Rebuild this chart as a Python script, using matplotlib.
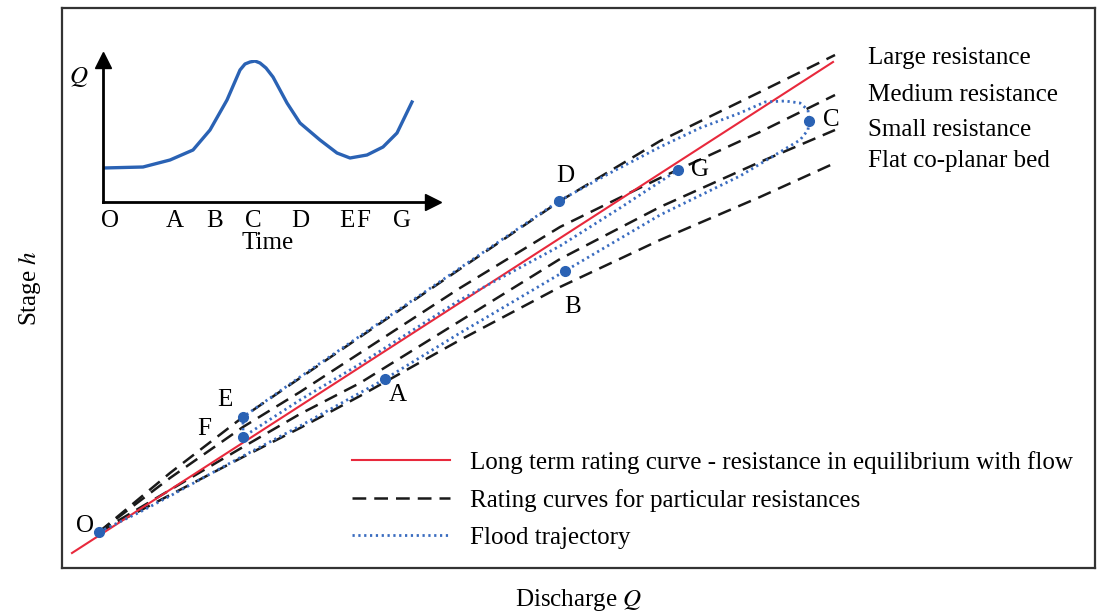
import matplotlib.pyplot as plt

plt.rcParams['font.family'] = ['Liberation Serif', 'DejaVu Serif']
plt.rcParams['mathtext.fontset'] = 'stix'

# --- schematic values (discharge Q, stage h) ---
q_grid = [99, 170, 243, 300, 360, 460, 560, 660, 760, 835]
h_large = [83, 142, 198, 237, 278, 346, 414, 474, 523, 560]
h_medium = [83, 137, 188, 223, 262, 327, 388, 437, 483, 520]
h_small = [83, 125, 168, 201, 232, 294, 356, 408, 453, 485]
h_flat = [83, 120, 158, 187, 219, 275, 328, 375, 418, 452]
resistance_names = ['Large resistance', 'Medium resistance',
                    'Small resistance', 'Flat co-planar bed']
resistance_label_h = [557, 520, 485, 454]

q_long = [72, 833]
h_long = [62, 553]

q_flood = [99, 140, 170, 243, 300, 385, 460, 565, 660, 740, 780, 800, 808, 809,
           808, 800, 785, 765, 740, 700, 660, 610, 559, 460, 360, 300, 243,
           243, 300, 360, 460, 560, 620, 678]
h_flood = [83, 103, 119, 159, 189, 236, 282, 344, 400, 439, 463, 475, 485, 494,
           505, 512, 514, 513, 502, 487, 468, 442, 414, 347, 279, 238, 198,
           178, 215, 251, 315, 369, 407, 445]

point_names = ['O', 'A', 'B', 'C', 'D', 'E', 'F', 'G']
point_q = [99, 385, 565, 809, 559, 243, 243, 678]
point_h = [83, 236, 344, 494, 414, 198, 178, 445]

# hydrograph in the inset (time, discharge)
t_hydro = [0, 40, 67, 90, 107, 124, 137, 142, 147, 152, 157, 163, 170, 184,
           197, 217, 234, 247, 264, 280, 294, 309]
q_hydro = [34, 35, 42, 52, 72, 102, 132, 138, 140, 141, 139, 134, 125, 99,
           79, 62, 49, 44, 47, 55, 69, 100]
t_ticks = [7, 72, 112, 150, 197, 244, 260, 299]

fs = 18
blue = '#2a62b4'
dot_blue = '#3a6cc0'
red = '#e8293c'

fig = plt.figure(figsize=(10.98, 6.15), dpi=100)
ax = fig.add_axes([62 / 1098, 47 / 615, 1033 / 1098, 560 / 615])

for h in [h_large, h_medium, h_small, h_flat]:
    ax.plot(q_grid, h, color='#1a1a1a', lw=1.8, dashes=(5.5, 3.2))
ax.plot(q_long, h_long, color=red, lw=1.5)
ax.plot(q_flood, h_flood, color=dot_blue, lw=2.0, dashes=(0.8, 1.3))
ax.plot(point_q, point_h, 'o', color=blue, ms=7, zorder=5)

# point letters
offsets = {'O': (-14, 6), 'A': (13, -16), 'B': (8, -36), 'C': (22, 1),
           'D': (6, 25), 'E': (-18, 17), 'F': (-39, 8), 'G': (22, 0)}
for name, q, h in zip(point_names, point_q, point_h):
    dx, dy = offsets[name]
    ax.text(q + dx, h + dy, name, fontsize=fs, ha='center', va='center')

# curve names on the right
for name, h in zip(resistance_names, resistance_label_h):
    ax.text(868, h, name, fontsize=fs, va='center', ha='left')

ax.set_xlim(62, 1095)
ax.set_ylim(47, 607)
ax.set_xticks([])
ax.set_yticks([])
for sp in ax.spines.values():
    sp.set_linewidth(1.6)
    sp.set_color('#333333')
ax.set_xlabel('Discharge $Q$', fontsize=18, labelpad=14)
ax.set_ylabel('Stage $h$', fontsize=18, labelpad=14)

leg_handles = [
    plt.Line2D([], [], color=red, lw=1.5),
    plt.Line2D([], [], color='#1a1a1a', lw=1.8, dashes=(5.5, 3.2)),
    plt.Line2D([], [], color=dot_blue, lw=2.0, dashes=(0.8, 1.3)),
]
leg_labels = ['Long term rating curve - resistance in equilibrium with flow',
              'Rating curves for particular resistances',
              'Flood trajectory']
ax.legend(leg_handles, leg_labels, loc='lower left', frameon=False,
          fontsize=fs, handlelength=3.9, handletextpad=0.8, labelspacing=0.6,
          bbox_to_anchor=(280 / 1033, 9 / 560), borderaxespad=0)

# inset hydrograph
axi = fig.add_axes([103 / 1098, 413 / 615, 330 / 1098, 142 / 615])
axi.plot(t_hydro, q_hydro, color=blue, lw=2.4)
axi.set_xlim(0, 330)
axi.set_ylim(0, 142)
axi.patch.set_alpha(0)
for side in ['top', 'right']:
    axi.spines[side].set_visible(False)
for side in ['left', 'bottom']:
    axi.spines[side].set_linewidth(2)
axi.plot(1, 0, '>', color='black', ms=11, transform=axi.transAxes, clip_on=False)
axi.plot(0, 1, '^', color='black', ms=11, transform=axi.transAxes, clip_on=False)
axi.set_xticks(t_ticks)
axi.set_xticklabels(point_names, fontsize=fs)
axi.tick_params(axis='x', length=0, pad=6)
axi.set_yticks([])
axi.set_xlabel('Time', fontsize=fs, labelpad=0)
axi.text(-0.075, 0.88, '$Q$', fontsize=fs, transform=axi.transAxes,
         ha='center', va='center')

fig.savefig('out.png', dpi=100)
